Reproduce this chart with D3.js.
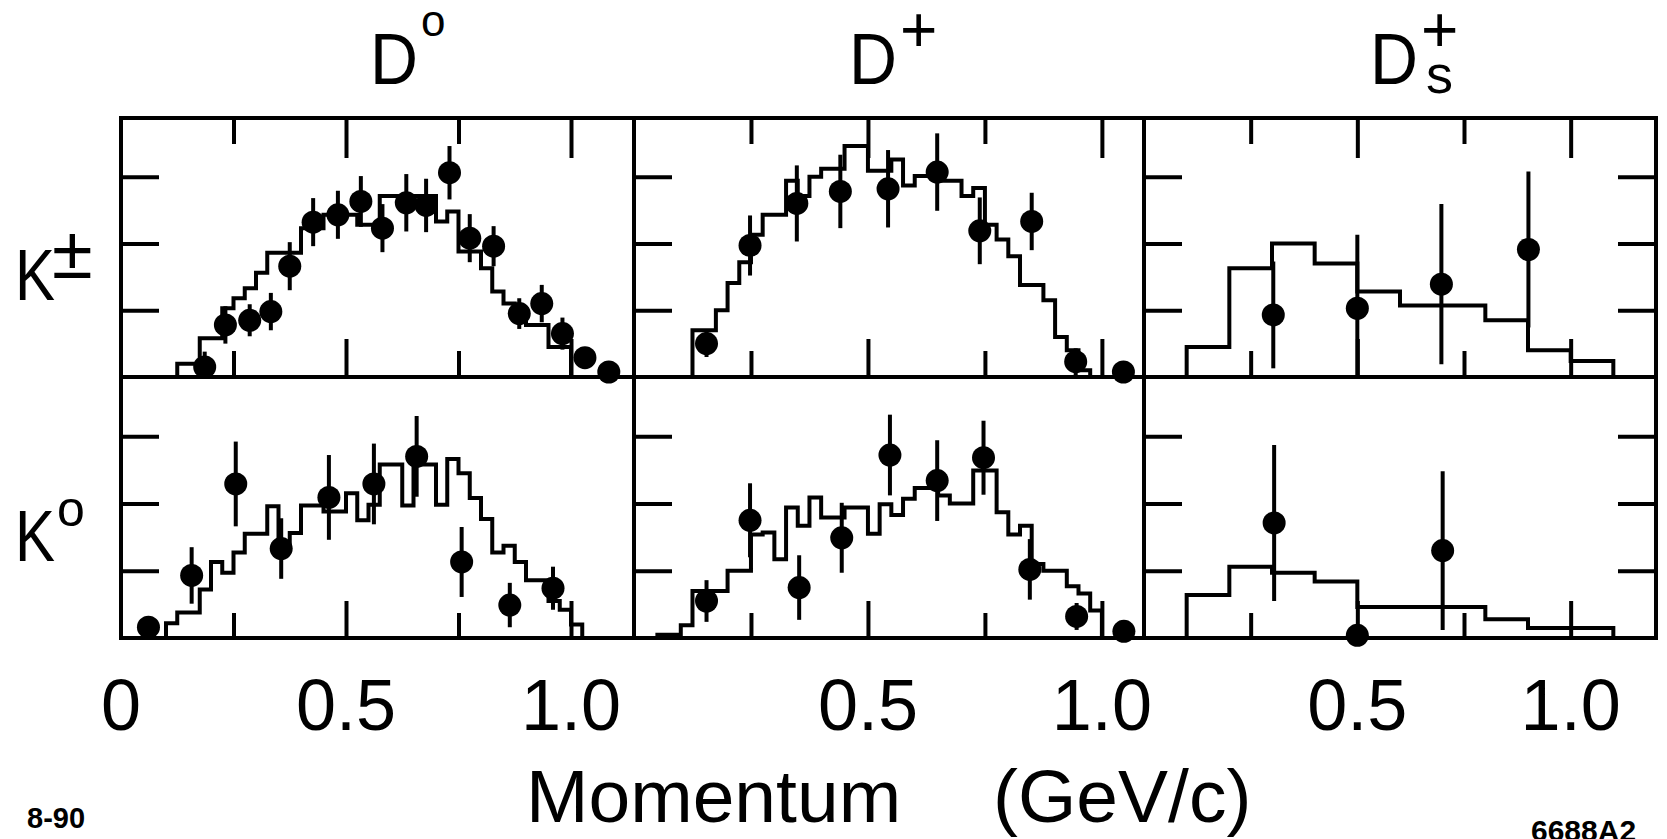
<!DOCTYPE html>
<html>
<head>
<meta charset="utf-8">
<script src="https://cdn.jsdelivr.net/npm/d3@7"></script>
<style>
  html, body { margin: 0; padding: 0; background: #fff; }
  svg { display: block; }
  text { font-family: "Liberation Sans", Arial, Helvetica, sans-serif; fill: #000; }
</style>
</head>
<body>
<svg id="chart" width="1667" height="839"></svg>
<script>
// ---------------- data ----------------
// Axis domains (momentum in GeV/c, yield in arbitrary tick units)
const xMax = [1.14, 1.09, 1.2];          // momentum at right edge of each column
const yMax = 3.88;
const yTicks = [1, 2, 3];
const xMinorTicks = [0.25, 0.75];
const xMajorTicks = [0.5, 1.0];
const xLabelValues = [[0, 0.5, 1.0], [0.5, 1.0], [0.5, 1.0]];
const xLabelTexts  = [["0", "0.5", "1.0"], ["0.5", "1.0"], ["0.5", "1.0"]];

// D0 -> K± : measured points and Monte Carlo histogram
const d0KcP   = [0.186, 0.232, 0.286, 0.333, 0.375, 0.427, 0.482, 0.533, 0.581, 0.634, 0.678, 0.73, 0.775, 0.828, 0.885, 0.935, 0.981, 1.031, 1.084];
const d0KcY   = [0.15, 0.78, 0.85, 0.98, 1.66, 2.32, 2.43, 2.63, 2.23, 2.61, 2.57, 3.06, 2.08, 1.96, 0.95, 1.10, 0.65, 0.29, 0.075];
const d0KcErr = [0.23, 0.28, 0.24, 0.28, 0.36, 0.36, 0.36, 0.38, 0.36, 0.43, 0.40, 0.40, 0.36, 0.30, 0.23, 0.28, 0.24, 0.15, 0];
const d0KcMc  = [0.2, 0.2, 0.58, 0.58, 1.03, 1.18, 1.33, 1.56, 1.86, 1.86, 1.86, 2.23, 2.23, 2.43, 2.43, 2.43, 2.28, 2.28,
                 2.71, 2.71, 2.71, 2.71, 2.71, 2.33, 2.48, 1.88, 1.88, 1.63, 1.28, 1.1, 0.95, 0.78, 0.78, 0.45, 0.45];

// D+ -> K±
const dpKcP   = [0.155, 0.248, 0.348, 0.441, 0.543, 0.648, 0.739, 0.85, 0.944, 1.046];
const dpKcY   = [0.5, 1.97, 2.6, 2.78, 2.82, 3.07, 2.19, 2.33, 0.23, 0.075];
const dpKcErr = [0.2, 0.45, 0.57, 0.55, 0.58, 0.58, 0.5, 0.43, 0.2, 0];
const dpKcMc  = [0.7, 0.7, 1.0, 1.41, 1.72, 2.13, 2.43, 2.43, 2.94, 2.71, 3.0, 3.12, 3.12, 3.46, 3.46, 3.09, 3.09,
                 3.26, 2.87, 3.01, 3.01, 2.94, 2.94, 2.71, 2.83, 2.28, 2.06, 1.81, 1.38, 1.38, 1.15, 0.6, 0.4, 0.1];

// Ds+ -> K±
const dsKcP   = [0.303, 0.5, 0.697, 0.901];
const dsKcY   = [0.93, 1.03, 1.39, 1.91];
const dsKcErr = [0.8, 1.1, 1.2, 1.17];
const dsKcMc  = [0.45, 1.63, 2.0, 1.7, 1.28, 1.07, 1.07, 0.85, 0.4, 0.24];

// D0 -> K0
const d0K0P   = [0.061, 0.157, 0.255, 0.356, 0.462, 0.562, 0.657, 0.757, 0.864, 0.96];
const d0K0Y   = [0.16, 0.93, 2.29, 1.33, 2.09, 2.29, 2.7, 1.13, 0.49, 0.74];
const d0K0Err = [0.15, 0.42, 0.63, 0.45, 0.63, 0.6, 0.6, 0.52, 0.33, 0.32];
const d0K0Mc  = [0.22, 0.38, 0.38, 0.72, 1.13, 0.97, 1.27, 1.55, 1.55, 1.96, 1.33, 1.56, 1.97, 1.97, 1.88, 1.88, 2.15,
                 1.75, 1.98, 2.58, 2.58, 1.97, 2.58, 2.58, 1.98, 2.66, 2.45, 2.08, 1.77, 1.27, 1.37, 1.13, 0.86, 0.86,
                 0.55, 0.42, 0.2];

// D+ -> K0
const dpK0P   = [0.155, 0.248, 0.353, 0.444, 0.547, 0.648, 0.747, 0.846, 0.946, 1.047];
const dpK0Y   = [0.55, 1.75, 0.75, 1.49, 2.72, 2.34, 2.68, 1.02, 0.32, 0.1];
const dpK0Err = [0.31, 0.55, 0.48, 0.52, 0.6, 0.6, 0.55, 0.45, 0.2, 0];
const dpK0Mc  = [0.05, 0.05, 0.19, 0.7, 0.7, 0.7, 1.0, 1.0, 1.54, 1.57, 1.17, 1.94, 1.67, 2.09, 1.79, 1.79, 1.94, 1.94,
                 1.55, 1.99, 1.83, 2.07, 2.23, 2.23, 2.12, 2.0, 2.0, 2.49, 2.49, 1.87, 1.54, 1.67, 1.1, 1.0, 1.0,
                 0.77, 0.66, 0.41];

// Ds+ -> K0
const dsK0P   = [0.305, 0.5, 0.70];
const dsK0Y   = [1.71, 0.04, 1.3];
const dsK0Err = [1.16, 0, 1.18];
const dsK0Mc  = [0.64, 1.06, 0.97, 0.84, 0.46, 0.46, 0.46, 0.28, 0.15, 0.15];

// Histogram binning: first bin edge and bin width (GeV/c)
const mcStart = [[0.125, 0.125, 0.1], [0.1, 0.05, 0.1]];
const mcWidth = [[0.025, 0.025, 0.1], [0.025, 0.025, 0.1]];

// ---------------- layout ----------------
const svg = d3.select("#chart");
const colEdges = [121, 634, 1144, 1656];
const rowEdges = [118, 377, 638];
const LW = 4;          // line weight used throughout
const R = 11.5;        // data point radius

const xScales = [0, 1, 2].map(c => d3.scaleLinear().domain([0, xMax[c]]).range([colEdges[c], colEdges[c + 1]]));
const yScales = [0, 1].map(r => d3.scaleLinear().domain([0, yMax]).range([rowEdges[r + 1], rowEdges[r]]));

const panels = [
  { row: 0, col: 0, p: d0KcP, y: d0KcY, e: d0KcErr, mc: d0KcMc },
  { row: 0, col: 1, p: dpKcP, y: dpKcY, e: dpKcErr, mc: dpKcMc },
  { row: 0, col: 2, p: dsKcP, y: dsKcY, e: dsKcErr, mc: dsKcMc },
  { row: 1, col: 0, p: d0K0P, y: d0K0Y, e: d0K0Err, mc: d0K0Mc },
  { row: 1, col: 1, p: dpK0P, y: dpK0Y, e: dpK0Err, mc: dpK0Mc },
  { row: 1, col: 2, p: dsK0P, y: dsK0Y, e: dsK0Err, mc: dsK0Mc }
];

const stepLine = d3.line().curve(d3.curveStepAfter);

panels.forEach(pn => {
  const x = xScales[pn.col], y = yScales[pn.row];
  const g = svg.append("g");
  const x0 = mcStart[pn.row][pn.col], w = mcWidth[pn.row][pn.col];

  // Monte Carlo histogram as a stepped outline rising from the baseline
  const pts = [[x(x0), y(0)]];
  pn.mc.forEach((v, i) => pts.push([x(x0 + i * w), y(v)]));
  pts.push([x(x0 + pn.mc.length * w), y(0)]);
  g.append("path")
    .attr("d", stepLine(pts))
    .attr("fill", "none").attr("stroke", "#000")
    .attr("stroke-width", LW).attr("stroke-linejoin", "miter");

  // error bars
  g.selectAll("line.err").data(pn.p.map((p, i) => ({ p, v: pn.y[i], e: pn.e[i] })).filter(d => d.e > 0))
    .enter().append("line")
    .attr("x1", d => x(d.p)).attr("x2", d => x(d.p))
    .attr("y1", d => y(Math.max(0, d.v - d.e))).attr("y2", d => y(Math.min(yMax, d.v + d.e)))
    .attr("stroke", "#000").attr("stroke-width", LW);

  // measured points
  g.selectAll("circle").data(pn.p.map((p, i) => ({ p, v: pn.y[i] })))
    .enter().append("circle")
    .attr("cx", d => x(d.p)).attr("cy", d => y(d.v)).attr("r", R)
    .attr("fill", "#000");
});

// ---------------- ticks ----------------
function styleAxis(sel) {
  sel.select(".domain").remove();
  sel.selectAll(".tick line").attr("stroke", "#000").attr("stroke-width", LW);
  sel.selectAll(".tick text").remove();
}
[0, 1, 2].forEach(c => {
  const x = xScales[c];
  // top edge of upper row
  svg.append("g").attr("transform", `translate(0,${rowEdges[0]})`)
    .call(d3.axisTop(x).tickValues(xMajorTicks).tickSize(-40)).call(styleAxis);
  svg.append("g").attr("transform", `translate(0,${rowEdges[0]})`)
    .call(d3.axisTop(x).tickValues(xMinorTicks).tickSize(-26)).call(styleAxis);
  // bottom edge of upper row
  svg.append("g").attr("transform", `translate(0,${rowEdges[1]})`)
    .call(d3.axisBottom(x).tickValues(xMajorTicks).tickSize(-38)).call(styleAxis);
  svg.append("g").attr("transform", `translate(0,${rowEdges[1]})`)
    .call(d3.axisBottom(x).tickValues(xMinorTicks).tickSize(-26)).call(styleAxis);
  // bottom edge of lower row
  svg.append("g").attr("transform", `translate(0,${rowEdges[2]})`)
    .call(d3.axisBottom(x).tickValues(xMajorTicks).tickSize(-37)).call(styleAxis);
  svg.append("g").attr("transform", `translate(0,${rowEdges[2]})`)
    .call(d3.axisBottom(x).tickValues(xMinorTicks).tickSize(-25)).call(styleAxis);

  [0, 1].forEach(r => {
    svg.append("g").attr("transform", `translate(${colEdges[c]},0)`)
      .call(d3.axisLeft(yScales[r]).tickValues(yTicks).tickSize(-38)).call(styleAxis);
    if (c === 2) {
      svg.append("g").attr("transform", `translate(${colEdges[3]},0)`)
        .call(d3.axisRight(yScales[r]).tickValues(yTicks).tickSize(-38)).call(styleAxis);
    }
  });

  // momentum labels under each column
  svg.append("g").selectAll("text").data(xLabelValues[c])
    .enter().append("text")
    .attr("x", d => x(d)).attr("y", 730)
    .attr("text-anchor", "middle").attr("font-size", 72)
    .text((d, i) => xLabelTexts[c][i]);
});

// ---------------- frames ----------------
const frame = svg.append("g").attr("stroke", "#000").attr("stroke-width", LW).attr("fill", "none");
frame.append("rect")
  .attr("x", colEdges[0]).attr("y", rowEdges[0])
  .attr("width", colEdges[3] - colEdges[0]).attr("height", rowEdges[2] - rowEdges[0]);
[1, 2].forEach(c => frame.append("line")
  .attr("x1", colEdges[c]).attr("x2", colEdges[c]).attr("y1", rowEdges[0]).attr("y2", rowEdges[2]));
frame.append("line")
  .attr("x1", colEdges[0]).attr("x2", colEdges[3]).attr("y1", rowEdges[1]).attr("y2", rowEdges[1]);

// ---------------- column and row titles ----------------
const titles = svg.append("g");
// D0
titles.append("text").attr("x", 370).attr("y", 84).attr("font-size", 72)
  .attr("textLength", 48).attr("lengthAdjust", "spacingAndGlyphs").text("D");
titles.append("text").attr("x", 421).attr("y", 36).attr("font-size", 44).text("o");
// D+
titles.append("text").attr("x", 849).attr("y", 84).attr("font-size", 72)
  .attr("textLength", 48).attr("lengthAdjust", "spacingAndGlyphs").text("D");
titles.append("text").attr("x", 900).attr("y", 52).attr("font-size", 64).text("+");
// Ds+
titles.append("text").attr("x", 1370).attr("y", 84).attr("font-size", 72)
  .attr("textLength", 48).attr("lengthAdjust", "spacingAndGlyphs").text("D");
titles.append("text").attr("x", 1421).attr("y", 52).attr("font-size", 64).text("+");
titles.append("text").attr("x", 1426).attr("y", 93).attr("font-size", 54).text("s");

// K±
titles.append("text").attr("x", 15).attr("y", 300).attr("font-size", 72)
  .attr("textLength", 40).attr("lengthAdjust", "spacingAndGlyphs").text("K");
titles.append("text").attr("x", 52).attr("y", 278).attr("font-size", 74).text("±");
// K0
titles.append("text").attr("x", 15).attr("y", 561).attr("font-size", 72)
  .attr("textLength", 40).attr("lengthAdjust", "spacingAndGlyphs").text("K");
titles.append("text").attr("x", 57).attr("y", 526).attr("font-size", 50).text("o");

// axis title and figure codes
titles.append("text").attr("x", 526).attr("y", 822).attr("font-size", 75).text("Momentum");
titles.append("text").attr("x", 993).attr("y", 822).attr("font-size", 75).text("(GeV/c)");
titles.append("text").attr("x", 27).attr("y", 828).attr("font-size", 29).attr("font-weight", "bold").text("8-90");
titles.append("text").attr("x", 1531).attr("y", 841).attr("font-size", 30).attr("font-weight", "bold").text("6688A2");
</script>
</body>
</html>
